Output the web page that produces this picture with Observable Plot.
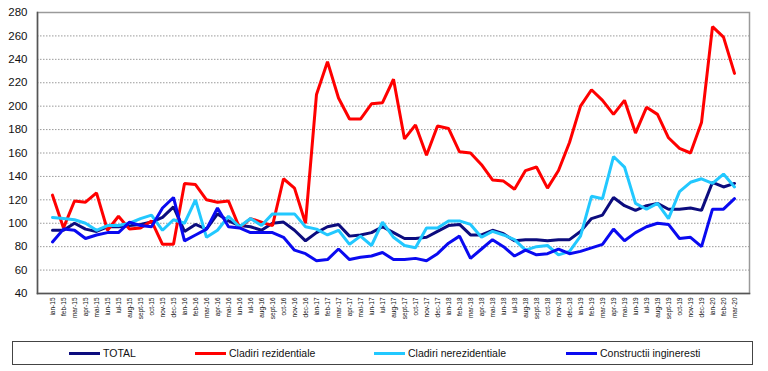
<!DOCTYPE html>
<html><head><meta charset="utf-8">
<script src="https://cdn.jsdelivr.net/npm/d3@7"></script>
<script src="https://cdn.jsdelivr.net/npm/@observablehq/plot@0.6"></script>
<style>
body{margin:0;background:#fff;font-family:"Liberation Sans",Arial,sans-serif;}
#wrap{position:relative;width:768px;height:371px;overflow:hidden}
#legend{position:absolute;left:12px;top:341px;width:741px;height:24px;border:1px solid #444;box-sizing:border-box;}
.item{position:absolute;top:0;height:100%;display:flex;align-items:center;font-size:10.5px;color:#111;white-space:nowrap}
.sw{display:inline-block;width:31px;height:3px;margin-right:3px}
</style></head><body><div id="wrap"><div id="chart"></div><div id="legend"></div></div>
<script>
const labels = ["ian-15","feb-15","mar-15","apr-15","mai-15","iun-15","iul-15","aug-15","sept-15","oct-15","nov-15","dec-15",
"ian-16","feb-16","mar-16","apr-16","mai-16","iun-16","iul-16","aug-16","sept-16","oct-16","nov-16","dec-16",
"ian-17","feb-17","mar-17","apr-17","mai-17","iun-17","iul-17","aug-17","sept-17","oct-17","nov-17","dec-17",
"ian-18","feb-18","mar-18","apr-18","mai-18","iun-18","iul-18","aug-18","sept-18","oct-18","nov-18","dec-18",
"ian-19","feb-19","mar-19","apr-19","mai-19","iun-19","iul-19","aug-19","sept-19","oct-19","nov-19","dec-19",
"ian-20","feb-20","mar-20"];

const seriesNames = ["TOTAL","Cladiri rezidentiale","Cladiri nerezidentiale","Constructii ingineresti"];
const seriesColors = ["#0c0c7e","#ff0000","#22c8ff","#0a0af0"];

const total = [94,94,100,95,93,97,97,98,99,101,105,114,93,99,95,108,102,98,97,94,
  100,101,94,85,92,97,99,89,90,92,97,92,87,87,88,93,98,99,90,90,94,91,
  85,86,86,85,86,86,93,104,107,122,115,111,115,117,112,112,113,111,135,131,134];
const rezidentiale = [124,96,119,118,126,94,106,95,96,102,82,82,134,133,120,118,119,96,104,101,
  98,138,130,100,210,238,207,189,189,202,203,223,172,184,158,183,181,161,160,150,137,136,
  129,145,148,130,145,169,200,214,205,193,205,177,199,193,173,164,160,186,268,259,228];
const nerezidentiale = [105,104,103,100,94,98,98,100,104,107,94,103,100,120,88,94,106,97,104,98,
  108,108,108,97,95,90,94,82,89,81,101,88,81,79,96,96,102,102,99,88,93,90,
  86,77,80,81,73,76,89,123,121,157,148,117,112,117,104,127,135,138,134,142,131];
const ingineresti = [84,95,94,87,90,92,92,101,98,97,113,122,85,90,95,113,97,96,92,92,
  92,88,77,74,68,69,78,69,71,72,75,69,69,70,68,74,83,89,70,78,86,80,
  72,77,73,74,78,74,76,79,82,95,85,92,97,100,99,87,88,80,112,112,121];
const yTicks = [40,60,80,100,120,140,160,180,200,220,240,260,280];

const seriesValues = [total, rezidentiale, nerezidentiale, ingineresti];
const rows = [];
seriesNames.forEach((s, k) => labels.forEach((l, i) => rows.push({series: s, label: l, value: seriesValues[k][i]})));

const chart = Plot.plot({
  width: 768, height: 335,
  marginLeft: 37, marginRight: 19, marginTop: 12, marginBottom: 42,
  style: {fontFamily: "'Liberation Sans', Arial, sans-serif", color: "#111", background: "#fff"},
  x: {type: "point", domain: labels, padding: 0.45},
  y: {domain: [40, 280]},
  color: {domain: seriesNames, range: seriesColors},
  marks: [
    Plot.gridY(yTicks, {stroke: "#9a9a9a", strokeOpacity: 1, strokeDasharray: "1.5,1.5"}),
    Plot.frame({stroke: "#9a9a9a", strokeWidth: 1.5}),
    Plot.frame({anchor: "left", stroke: "#555", strokeWidth: 1.5}),
    Plot.frame({anchor: "bottom", stroke: "#555", strokeWidth: 1.5}),
    Plot.axisY(yTicks, {tickSize: 0, tickPadding: 10, fontSize: 11.5, label: null}),
    Plot.axisX({tickRotate: -90, tickSize: 0, tickPadding: 4, fontSize: 6.5, label: null}),
    Plot.line(rows, {x: "label", y: "value", z: "series", stroke: "series", strokeWidth: 3, strokeLinejoin: "miter"})
  ]
});
document.getElementById("chart").appendChild(chart);

const legend = document.getElementById("legend");
const lx = [56, 182, 361, 553];
seriesNames.forEach((s, k) => {
  const it = document.createElement("div");
  it.className = "item";
  it.style.left = lx[k] + "px";
  it.innerHTML = `<span class="sw" style="background:${seriesColors[k]}"></span>${s}`;
  legend.appendChild(it);
});
</script>
</body></html>
